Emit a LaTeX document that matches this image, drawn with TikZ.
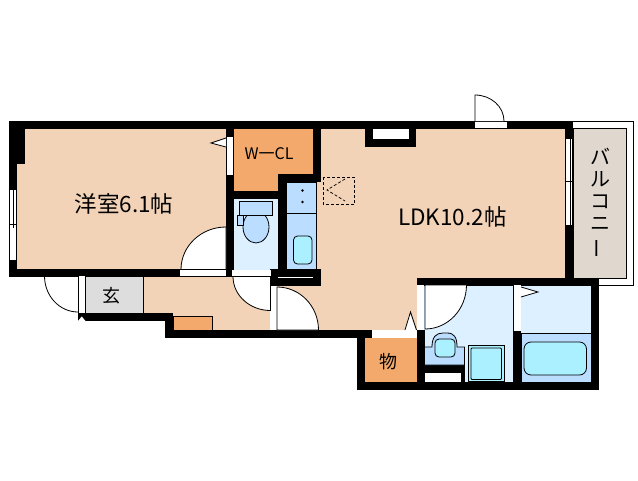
\documentclass[tikz,border=0pt]{standalone}
\usepackage{fontspec}
\setmainfont{Liberation Sans}
\newfontfamily\jpfont{Noto Sans CJK JP}
\definecolor{peach}{HTML}{F2D3B8}
\definecolor{closet}{HTML}{F4A96C}
\definecolor{wet}{HTML}{DDF0FF}
\definecolor{fixture}{HTML}{BBDDFF}
\definecolor{basin}{HTML}{AAF0FF}
\definecolor{entry}{HTML}{DDDDDD}
\definecolor{balcony}{HTML}{E0D8CF}
\begin{document}
\begin{tikzpicture}[
      x=1pt,y=-1pt,
      wall/.style={fill=black},
      gap/.style={fill=white},
      thin line/.style={draw=black,line width=0.8pt},
      swing/.style={fill=white,draw=black,line width=0.8pt},
      label/.style={inner sep=0pt,font=\jpfont\fontsize{22.5}{22.5}\selectfont}
    ]
      \useasboundingbox (0,0) rectangle (638,480);
      % floors
      \fill[peach] (17,129) rectangle (227,270);
      \fill[peach] (143,276) rectangle (271,314);
      \fill[peach] (172,314) rectangle (271,331);
      \fill[peach] (316,129) rectangle (566,279);
      \fill[peach] (276,279) rectangle (418,331);
      \fill[closet] (233,129) -- (314,129) -- (314,175) -- (278,175) -- (278,191) -- (233,191) -- cycle;
      \fill[closet] (364,338) rectangle (418,382);
      \fill[entry] (86,276) rectangle (143.5,313);
      \draw[thin line] (143.5,276) -- (143.5,313);
      \fill[wet] (233,198) rectangle (279,270);
      \fill[wet] (424,285) rectangle (514,382);
      \fill[wet] (520,285) rectangle (592,334);
      \fill[fixture,draw=black,line width=0.6pt] (286,182) rectangle (316.5,270);
      \draw[thin line,fill=balcony] (573,128.5) rectangle (626.5,278);
      \draw[thin line] (573,121.5) -- (633,121.5) -- (633,285) -- (598,285);
      % walls
      \fill[wall] (9,121) rectangle (573,129);
      \fill[wall] (9,121) rectangle (25,164);
      \fill[wall] (9,121) rectangle (17,277);
      \fill[wall] (9,269) rectangle (233,277);
      \fill[wall] (226,121) rectangle (234,277);
      \fill[wall] (313,121) rectangle (320.5,182);
      \fill[wall] (278,174) rectangle (320.5,182);
      \fill[wall] (278,174) rectangle (286,286);
      \fill[wall] (234,191) rectangle (278,198.5);
      \fill[wall] (270,269) rectangle (320.5,286);
      \fill[wall] (78,313) rectangle (173,321);
      \fill[wall] (165,313) rectangle (173,338);
      \fill[wall] (165,330) rectangle (372,338);
      \fill[wall] (357,330) rectangle (365,390);
      \fill[wall] (357,382) rectangle (599,390);
      \fill[wall] (417,278) rectangle (599,285.5);
      \fill[wall] (565,121) rectangle (573,285);
      \fill[wall] (591,278) rectangle (599,390);
      \fill[wall] (417,330) rectangle (425,390);
      \fill[wall] (513,285) rectangle (521,390);
      \fill[wall] (365,129) rectangle (416,147);
      \fill[gap] (373,129) rectangle (409,139);
      \fill[wall] (425,365) rectangle (465,373);
      \fill[wall] (461,365) rectangle (465,382);
      \fill[gap] (425,373) rectangle (461,382);
      \fill[gap] (78,321) -- (81.7,316.5) -- (85.5,321) -- cycle;
      % openings
      \fill[gap] (226.5,137) rectangle (233,175);
      \fill[gap] (180,270) rectangle (226,276);
      \fill[gap] (232,270) rectangle (270.5,276);
      \fill[gap] (278,276.5) rectangle (313,278);
      \fill[gap] (270,286) rectangle (277,330);
      \fill[gap] (417,285) rectangle (424,330);
      \fill[gap] (372,330) rectangle (417,337);
      \fill[gap] (514,285) rectangle (520.5,331);
      \fill[gap] (475,122) rectangle (507,128);
      \fill[gap] (78.5,276) rectangle (85.5,313);
      \draw[thin line] (78.5,276) -- (78.5,313) (85.5,276) -- (85.5,313);
      % windows
      \fill[gap] (9,190) rectangle (17,260);
      \draw[thin line] (9.5,190) -- (9.5,260) (13.5,190) -- (13.5,228) (16.5,190) -- (16.5,260) (9.5,224) -- (16.5,224);
      \fill[gap] (565.5,139) rectangle (573,225);
      \draw[thin line] (565.5,139) -- (565.5,225) (570.5,139) -- (570.5,225) (572.5,139) -- (572.5,225) (565.5,181) -- (573,181);
      % doors
      \draw[swing] (226,269.5) -- (181,269.5) arc[start angle=180,end angle=270,x radius=45,y radius=42.5] -- cycle;
      \draw[swing] (270.5,276.5) -- (233,276.5) arc[start angle=180,end angle=90,x radius=37.5,y radius=34] -- cycle;
      \draw[swing] (277,330) -- (277,287) arc[start angle=270,end angle=360,x radius=41.5,y radius=43] -- cycle;
      \draw[swing] (425,285) -- (466.5,285) arc[start angle=0,end angle=90,x radius=41.5,y radius=44] -- cycle;
      \draw[swing] (475,121) -- (475,95) arc[start angle=270,end angle=360,x radius=29,y radius=26];
      \draw[thin line] (78,312) arc[start angle=90,end angle=180,x radius=33.5,y radius=36];
      % door marks
      \draw[swing] (226,138) -- (211,143) -- (226,147);
      \draw[swing] (405,330) -- (410.5,312) -- (416.5,330);
      \draw[swing] (521,287) -- (538,292) -- (521,297);
      % closet shelf and ventilation
      \draw[thin line,fill=closet] (173,316.5) rectangle (212.5,330);
      \draw[densely dashed,line width=0.7pt] (323,177) rectangle (354.5,204);
      \draw[densely dashed,line width=0.7pt] (345,179) -- (327,190) -- (345,201);
      % toilet
      \draw[thin line,fill=fixture] (256,227) ellipse[x radius=13,y radius=16];
      \draw[thin line,fill=fixture] (237.5,215) rectangle (243.5,225);
      \draw[thin line,fill=fixture] (239,201.5) rectangle (272.5,215);
      % storage beside the toilet
      \draw[thin line] (286,213.5) -- (316.5,213.5);
      \fill (302.5,190.5) circle[radius=1.3];
      \fill (302.5,202) circle[radius=1.3];
      \draw[thin line,fill=basin,rounded corners=4pt] (293.5,236) rectangle (312,264);
      % wash basin
      \draw[thin line,fill=fixture] (425,347) -- (432,347) .. controls (432,337) and (436,333) .. (443,333) -- (447,333) .. controls (454,333) and (457,337) .. (457,347) -- (464.5,347) -- (464.5,365) -- (425,365);
      \draw[thin line,fill=basin,rounded corners=4pt] (435,339) rectangle (455,357);
      % washing machine
      \draw[thin line,fill=basin] (468.5,345.5) rectangle (504,381.5);
      \draw[thin line,fill=basin,rounded corners=1pt] (471,348) rectangle (501.5,379.5);
      % bath
      \draw[thin line,fill=fixture] (521,333.5) rectangle (591,382);
      \draw[thin line,fill=basin,rounded corners=7pt] (524,342) rectangle (586.5,375);
      % labels
      \node[label] (western) at (124,204) {洋室6.1帖};
      \node[label] (ldk) at (452.5,217) {LDK10.2帖};
      \node[label,font=\jpfont\fontsize{16}{16}\selectfont] (wcl) at (269,153.5) {W一CL};
      \node[label,font=\jpfont\fontsize{18}{18}\selectfont] (genkan) at (111,296) {玄};
      \node[label,font=\jpfont\fontsize{18}{18}\selectfont] (storage) at (388.5,362) {物};
      \node[label,font=\jpfont\fontsize{20}{22}\selectfont,align=center] (veranda) at (600.5,203) {バ\\ル\\コ\\ニ\\\rotatebox[origin=c]{90}{ー}};
    \end{tikzpicture}
\end{document}
